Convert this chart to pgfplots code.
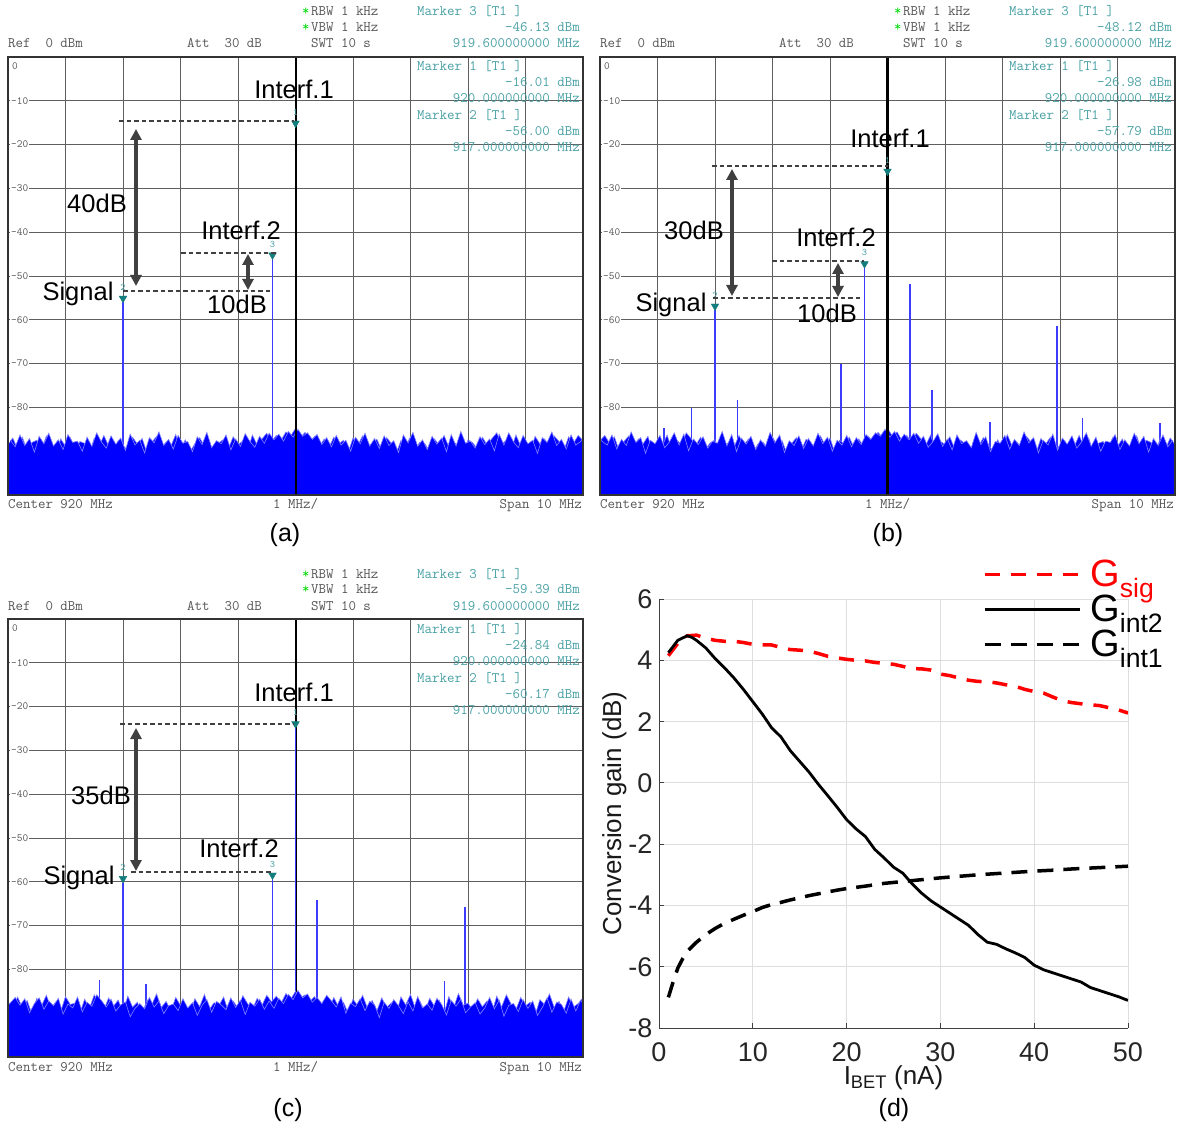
\documentclass[border=0pt]{standalone}
\usepackage{fontspec}
\setmainfont{Liberation Sans}
\usepackage{pgfplots}
\pgfplotsset{compat=1.18}
\usepackage{pgfplotstable}
\usetikzlibrary{arrows.meta}

\definecolor{teal1}{RGB}{72,160,164}
\definecolor{teal2}{RGB}{20,125,125}
\definecolor{hdr}{RGB}{85,85,85}
\definecolor{grd}{RGB}{95,95,95}
\definecolor{spur}{RGB}{60,60,255}
\definecolor{floorblue}{RGB}{0,0,255}
\definecolor{edgeblue}{RGB}{130,130,255}
\definecolor{annot}{RGB}{64,64,64}

% noise floor top (dBm), one value every 1/12 MHz
\pgfplotstableread[row sep=\\]{y\\
-88.5\\ -87.0\\ -89.5\\ -86.8\\ -90.0\\ -88.0\\ -87.5\\ -89.8\\ -86.5\\ -88.7\\
-90.5\\ -87.2\\ -88.9\\ -86.9\\ -89.6\\ -87.8\\ -88.2\\ -90.7\\ -87.0\\ -89.0\\
-86.4\\ -88.8\\ -90.2\\ -87.6\\ -88.6\\ -89.9\\ -86.8\\ -88.4\\ -87.1\\ -90.4\\
-88.0\\ -86.6\\ -89.3\\ -87.9\\ -88.8\\ -86.2\\ -89.5\\ -87.4\\ -90.1\\ -88.3\\
-86.9\\ -88.9\\ -87.5\\ -91.0\\ -88.1\\ -87.3\\ -89.4\\ -86.7\\ -88.5\\ -87.7\\
-90.0\\ -86.3\\ -88.6\\ -87.2\\ -85.9\\ -87.8\\ -86.4\\ -87.5\\ -85.6\\ -86.5\\
-84.8\\ -86.9\\ -85.7\\ -87.8\\ -86.6\\ -88.9\\ -87.2\\ -89.1\\ -86.8\\ -88.4\\
-87.5\\ -90.3\\ -87.0\\ -88.7\\ -86.5\\ -89.2\\ -88.1\\ -87.3\\ -89.8\\ -86.9\\
-88.2\\ -90.5\\ -87.6\\ -88.8\\ -86.7\\ -89.4\\ -87.9\\ -88.3\\ -90.1\\ -87.2\\
-88.6\\ -86.4\\ -89.0\\ -87.8\\ -88.9\\ -90.8\\ -87.4\\ -88.1\\ -89.5\\ -86.8\\
-88.6\\ -87.1\\ -85.8\\ -88.4\\ -87.5\\ -89.7\\ -86.3\\ -88.8\\ -87.9\\ -90.2\\
-86.6\\ -88.3\\ -87.2\\ -89.1\\ -86.5\\ -87.8\\ -89.9\\ -86.7\\ -88.2\\ -86.4\\
-87.6\\ -88.9\\ -87.3\\ -89.2\\ -86.9\\ -88.0\\
}\noiseA

\pgfplotstableread[row sep=\\]{y\\
-87.5\\ -89.0\\ -86.3\\ -88.7\\ -87.1\\ -90.2\\ -86.6\\ -88.3\\ -85.9\\ -88.8\\
-87.4\\ -89.6\\ -86.2\\ -88.0\\ -87.7\\ -90.0\\ -86.8\\ -88.9\\ -85.8\\ -87.9\\
-89.3\\ -86.5\\ -88.4\\ -87.0\\ -89.8\\ -86.1\\ -88.6\\ -87.5\\ -90.4\\ -86.9\\
-88.1\\ -85.6\\ -88.7\\ -87.3\\ -89.5\\ -86.4\\ -88.2\\ -87.8\\ -90.1\\ -86.7\\
-88.5\\ -85.7\\ -89.2\\ -87.6\\ -88.3\\ -86.3\\ -89.7\\ -87.2\\ -88.9\\ -86.0\\
-87.8\\ -89.1\\ -86.6\\ -88.2\\ -85.9\\ -87.4\\ -86.1\\ -87.7\\ -85.5\\ -86.8\\
-85.0\\ -86.6\\ -85.8\\ -87.3\\ -86.2\\ -88.5\\ -86.9\\ -89.0\\ -86.4\\ -88.6\\
-87.5\\ -90.0\\ -86.8\\ -88.3\\ -85.9\\ -88.8\\ -87.1\\ -89.4\\ -86.5\\ -88.7\\
-87.6\\ -90.3\\ -86.3\\ -88.1\\ -85.7\\ -88.9\\ -87.4\\ -89.6\\ -86.6\\ -88.4\\
-87.0\\ -90.1\\ -86.2\\ -88.8\\ -85.5\\ -88.2\\ -87.7\\ -89.3\\ -86.7\\ -88.5\\
-87.2\\ -89.9\\ -86.1\\ -88.6\\ -85.8\\ -87.9\\ -89.2\\ -86.4\\ -88.3\\ -87.5\\
-90.5\\ -86.9\\ -88.0\\ -85.6\\ -88.7\\ -87.3\\ -89.5\\ -86.3\\ -88.6\\ -87.8\\
-86.5\\ -88.1\\ -87.0\\ -89.0\\ -86.4\\ -87.6\\
}\noiseC

\pgfplotsset{spec/.style={
  scale only axis, width=575pt, height=438pt, anchor=north west,
  xmin=915, xmax=925, ymin=-100, ymax=0,
  xtick={916,917,...,924}, ytick={-90,-80,...,-10},
  xticklabels={}, yticklabels={},
  major tick length=0pt,
  xmajorgrids, ymajorgrids,
  grid style={line width=0.9pt, grd},
  axis line style={line width=2pt, black!80},
}}

\tikzset{
  mono/.style={font=\fontsize{14.5}{16}\selectfont\ttfamily, inner sep=0pt},
  ylab/.style={font=\fontsize{11}{12}\selectfont\ttfamily, text=hdr, inner sep=1pt},
  mnum/.style={font=\fontsize{10}{11}\selectfont\ttfamily, text=teal1, inner sep=0pt, yshift=11pt},
  ann/.style={font=\fontsize{25.5}{28}\selectfont, inner sep=0pt},
  dl/.style={black!75, line width=2pt, dash pattern=on 4.5pt off 3pt},
  ar/.style={annot, line width=3.2pt, {Triangle[length=11pt,width=11pt]}-{Triangle[length=11pt,width=11pt]}},
  plab/.style={font=\fontsize{25}{28}\selectfont, inner sep=0pt},
}
\pgfplotsset{
  floorfill/.style={draw=none, fill=floorblue},
  fedge/.style={color=edgeblue, line width=0.6pt},
  spurs/.style={color=spur, line width=1.8pt, unbounded coords=jump},
  tri/.style={only marks, mark=triangle*, mark size=4.4pt, mark options={rotate=180, fill=teal2, draw=teal2}},
}

\newcommand{\panelhdr}[5]{%
\begin{scope}[shift={(#1,#2)}]
 \node[mono,text=green!85!black,anchor=base west] at (302,-16) {*};
 \node[mono,text=hdr,anchor=base west] at (311,-16) {RBW~1~kHz};
 \node[mono,text=green!85!black,anchor=base west] at (302,-32) {*};
 \node[mono,text=hdr,anchor=base west] at (311,-32) {VBW~1~kHz};
 \node[mono,text=hdr,anchor=base west] at (8,-48) {Ref~~0~dBm};
 \node[mono,text=hdr,anchor=base west] at (187,-48) {Att~~30~dB};
 \node[mono,text=hdr,anchor=base west] at (311,-48) {SWT~10~s};
 \node[mono,text=teal1,anchor=base west] at (417,-16) {Marker~3~[T1~]};
 \node[mono,text=teal1,anchor=base east] at (580,-32) {#3~dBm};
 \node[mono,text=teal1,anchor=base east] at (580,-48) {919.600000000~MHz};
 \node[mono,text=teal1,anchor=base west] at (417,-71) {Marker~1~[T1~]};
 \node[mono,text=teal1,anchor=base east] at (580,-87) {#4~dBm};
 \node[mono,text=teal1,anchor=base east] at (580,-103) {920.000000000~MHz};
 \node[mono,text=teal1,anchor=base west] at (417,-120) {Marker~2~[T1~]};
 \node[mono,text=teal1,anchor=base east] at (580,-136) {#5~dBm};
 \node[mono,text=teal1,anchor=base east] at (580,-152) {917.000000000~MHz};
 \node[mono,text=hdr,anchor=base west] at (8,-509) {Center~920~MHz};
 \node[mono,text=hdr,anchor=base west] at (273,-509) {1~MHz/};
 \node[mono,text=hdr,anchor=base east] at (582,-509) {Span~10~MHz};
 \node[ylab,anchor=west] at (11,-66) {0};
 \foreach \k in {1,...,8} {\node[ylab,anchor=west,fill=white] at (10,{-57-43.8*\k}) {-\k0};}
 \draw[line width=2pt, black!80] (8,-57) rectangle (583,-495);
\end{scope}}

\begin{document}
\begin{tikzpicture}[x=1pt,y=1pt]
\path[use as bounding box] (0pt,0pt) rectangle (1179pt,-1131pt);

% ---------------- (a)
\begin{axis}[spec, at={(8pt,-57pt)}]
\addplot[spurs] coordinates {
 (917,-100) (917,-56.00) (917,nan)
 (919.6,-100) (919.6,-46.13) (919.6,nan)
 (920,-100) (920,-16.01)};
\addplot[floorfill] table[x expr=915+\coordindex/12, y=y]{\noiseA} |- (axis cs:915,-100) -- cycle;
\addplot[fedge] table[x expr=915+\coordindex/12, y=y]{\noiseA};
\addplot[floorfill] table[x expr=915.042+\coordindex/12, y=y]{\noiseC} |- (axis cs:915,-100) -- cycle;
\addplot[fedge] table[x expr=915.042+\coordindex/12, y=y]{\noiseC};
\addplot[black, line width=2pt] coordinates {(920,0) (920,-100)};
\addplot[tri] coordinates {(920,-15.11) (917,-55.10) (919.6,-45.23)};
\node[mnum] at (axis cs:920,-15.11) {1};
\node[mnum] at (axis cs:917,-55.10) {2};
\node[mnum] at (axis cs:919.6,-45.23) {3};
\end{axis}
\panelhdr{0}{0}{-46.13}{-16.01}{-56.00}
\draw[dl] (119,-121) -- (294,-121);
\draw[dl] (181,-253) -- (277,-253);
\draw[dl] (123,-291) -- (273,-291);
\draw[ar] (136,-129) -- (136,-286);
\draw[ar] (248,-254) -- (248,-290);
\node[ann] at (294,-89) {Interf.1};
\node[ann] at (97,-203) {40dB};
\node[ann] at (241,-230) {Interf.2};
\node[ann] at (78,-294) {Signal};
\node[ann] at (237,-304) {10dB};
\node[plab] at (285,-535) {(a)};

% ---------------- (b)
\begin{axis}[spec, at={(600pt,-57pt)}]
\addplot[spurs] coordinates {
 (917,-100) (917,-57.79) (917,nan)
 (919.6,-100) (919.6,-48.12) (919.6,nan)
 (920,-100) (920,-26.98) (920,nan)
 (916.11,-100) (916.11,-84.8) (916.11,nan)
 (916.59,-100) (916.59,-80.1) (916.59,nan)
 (917.39,-100) (917.39,-78.3) (917.39,nan)
 (919.19,-100) (919.19,-70.0) (919.19,nan)
 (920.39,-100) (920.39,-51.8) (920.39,nan)
 (920.78,-100) (920.78,-76.1) (920.78,nan)
 (921.78,-100) (921.78,-83.3) (921.78,nan)
 (922.95,-100) (922.95,-61.5) (922.95,nan)
 (923.39,-100) (923.39,-82.4) (923.39,nan)
 (924.74,-100) (924.74,-83.5)};
\addplot[floorfill] table[x expr=925-\coordindex/12, y=y]{\noiseA} |- (axis cs:925,-100) -- cycle;
\addplot[fedge] table[x expr=925-\coordindex/12, y=y]{\noiseA};
\addplot[floorfill] table[x expr=924.958-\coordindex/12, y=y]{\noiseC} |- (axis cs:925,-100) -- cycle;
\addplot[fedge] table[x expr=924.958-\coordindex/12, y=y]{\noiseC};
\addplot[black, line width=2.2pt] coordinates {(920,0) (920,-100)};
\addplot[tri] coordinates {(920,-26.08) (917,-56.89) (919.6,-47.22)};
\node[mnum] at (axis cs:920,-26.08) {1};
\node[mnum] at (axis cs:917,-56.89) {2};
\node[mnum] at (axis cs:919.6,-47.22) {3};
\end{axis}
\panelhdr{592}{0}{-48.12}{-26.98}{-57.79}
\draw[dl] (712,-166) -- (888,-166);
\draw[dl] (772,-261) -- (864,-261);
\draw[dl] (713,-298) -- (862,-298);
\draw[ar] (732,-169) -- (732,-296);
\draw[ar] (838,-263) -- (838,-297);
\node[ann] at (890,-138) {Interf.1};
\node[ann] at (694,-230) {30dB};
\node[ann] at (836,-237) {Interf.2};
\node[ann] at (671,-305) {Signal};
\node[ann] at (827,-313) {10dB};
\node[plab] at (888,-535) {(b)};

% ---------------- (c)
\begin{axis}[spec, at={(8pt,-619pt)}]
\addplot[black, line width=2pt] coordinates {(920,0) (920,-100)};
\addplot[spurs] coordinates {
 (917,-100) (917,-60.17) (917,nan)
 (919.6,-100) (919.6,-59.39) (919.6,nan)
 (920,-100) (920,-24.84) (920,nan)
 (916.59,-100) (916.59,-82.4) (916.59,nan)
 (917.40,-100) (917.40,-83.4) (917.40,nan)
 (920.38,-100) (920.38,-64.1) (920.38,nan)
 (922.59,-100) (922.59,-82.7) (922.59,nan)
 (922.95,-100) (922.95,-65.7)};
\addplot[floorfill] table[x expr=915+\coordindex/12, y=y]{\noiseC} |- (axis cs:915,-100) -- cycle;
\addplot[fedge] table[x expr=915+\coordindex/12, y=y]{\noiseC};
\addplot[floorfill] table[x expr=925.042-\coordindex/12, y=y]{\noiseA} |- (axis cs:925,-100) -- cycle;
\addplot[fedge] table[x expr=925.042-\coordindex/12, y=y]{\noiseA};
\addplot[tri] coordinates {(920,-23.94) (917,-59.27) (919.6,-58.49)};
\node[mnum] at (axis cs:920,-23.94) {1};
\node[mnum] at (axis cs:917,-59.27) {2};
\node[mnum] at (axis cs:919.6,-58.49) {3};
\end{axis}
\panelhdr{0}{-562}{-59.39}{-24.84}{-60.17}
\draw[dl] (120,-724) -- (293,-724);
\draw[dl] (131,-872) -- (272,-872);
\draw[ar] (136,-728) -- (136,-871);
\node[ann] at (294,-692) {Interf.1};
\node[ann] at (101,-795) {35dB};
\node[ann] at (239,-848) {Interf.2};
\node[ann] at (79,-878) {Signal};
\node[plab] at (288,-1110) {(c)};

% ---------------- (d)
\begin{axis}[at={(659pt,-1028pt)}, anchor=south west, scale only axis,
  width=469pt, height=429pt,
  xmin=0, xmax=50, ymin=-8, ymax=6,
  xtick={0,10,...,50}, ytick={-8,-6,...,6},
  axis lines=left, axis line style={-, draw=black!75, line width=0.9pt},
  grid=major, grid style={black!13, line width=0.9pt},
  tick style={black!75, line width=0.9pt}, tick align=inside, major tick length=5pt,
  tick label style={font=\fontsize{27}{29}\selectfont, text=black!85},
  xticklabel style={yshift=-11pt},
  yticklabel style={xshift=-3pt},
  /pgf/number format/assume math mode=true,
  xlabel={I\textsubscript{BET} (nA)}, ylabel={Conversion gain (dB)},
  label style={font=\fontsize{26}{28}\selectfont, text=black!90},
  xlabel style={yshift=3pt},
  ylabel style={yshift=-5pt},
  legend style={at={(axis description cs:0.69,1.093)}, anchor=north west, draw=none, fill=none,
    inner sep=0pt, row sep=5pt, font=\fontsize{38}{40}\selectfont,
    nodes={inner sep=1pt},
    /tikz/every odd column/.append style={column sep=8pt}},
  legend cell align=left,
  legend image code/.code={\draw[#1] (0pt,0pt) -- (95pt,0pt);},
]
\addplot[red, line width=3.5pt, dash pattern=on 15pt off 11pt] coordinates {
(1,4.15) (2,4.55) (3,4.8) (4,4.82) (5,4.72) (6,4.65) (7,4.62) (8,4.62) (9,4.58) (10,4.52)
(11,4.5) (12,4.5) (13,4.42) (14,4.35) (15,4.33) (16,4.3) (17,4.22) (18,4.13) (19,4.08) (20,4.03)
(21,4.0) (22,3.98) (23,3.93) (24,3.9) (25,3.87) (26,3.8) (27,3.73) (28,3.72) (29,3.68) (30,3.55)
(31,3.5) (32,3.42) (33,3.35) (34,3.31) (35,3.3) (36,3.26) (37,3.2) (38,3.15) (39,3.05) (40,2.98)
(41,2.93) (42,2.8) (43,2.68) (44,2.62) (45,2.58) (46,2.55) (47,2.52) (48,2.45) (49,2.38) (50,2.28)};
\addlegendentry{\textcolor{red}{G\textsubscript{sig}}}
\addplot[black, line width=2.8pt] coordinates {
(1,4.25) (2,4.65) (3,4.8) (3.5,4.75) (4,4.65) (5,4.4) (6,4.05) (7,3.75) (8,3.42) (9,3.05) (10,2.65)
(11,2.25) (12,1.8) (13,1.5) (14,1.05) (15,0.7) (16,0.35) (17,-0.05) (18,-0.42) (19,-0.8) (20,-1.2)
(21,-1.5) (22,-1.75) (23,-2.17) (24,-2.45) (25,-2.75) (26,-2.95) (27,-3.3) (28,-3.6) (29,-3.85) (30,-4.05)
(31,-4.25) (32,-4.45) (33,-4.65) (34,-4.95) (35,-5.2) (36,-5.27) (37,-5.42) (38,-5.55) (39,-5.7) (40,-5.95)
(41,-6.1) (42,-6.2) (43,-6.3) (44,-6.4) (45,-6.5) (46,-6.68) (47,-6.78) (48,-6.88) (49,-6.98) (50,-7.1)};
\addlegendentry{G\textsubscript{int2}}
\addplot[black, line width=3.5pt, dash pattern=on 16pt off 10pt] coordinates {
(1,-7.0) (1.5,-6.5) (2,-6.05) (2.5,-5.75) (3,-5.5) (4,-5.2) (5,-4.95) (6,-4.75) (7,-4.58) (8,-4.45)
(9,-4.32) (10,-4.2) (11,-4.07) (12,-3.97) (13,-3.9) (14,-3.82) (15,-3.75) (16,-3.68) (17,-3.62) (18,-3.56)
(19,-3.5) (20,-3.45) (22,-3.37) (24,-3.28) (26,-3.22) (28,-3.16) (30,-3.1) (32,-3.05) (34,-3.0) (36,-2.96)
(38,-2.92) (40,-2.88) (42,-2.85) (44,-2.81) (46,-2.78) (48,-2.75) (50,-2.72)};
\addlegendentry{G\textsubscript{int1}}
\end{axis}
\node[plab] at (894,-1110) {(d)};
\end{tikzpicture}
\end{document}
